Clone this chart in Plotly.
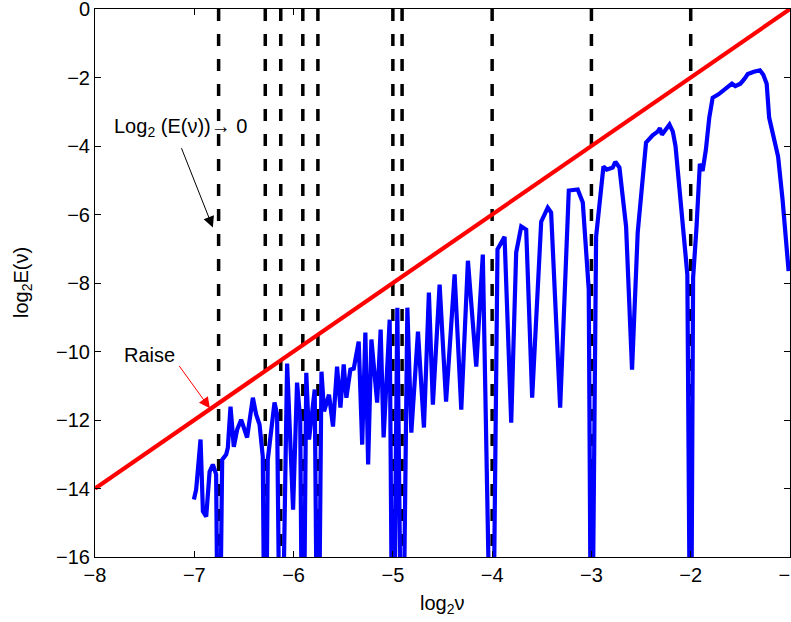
import plotly.graph_objects as go

# ---- data ----
BOT = -22.0  # spectral zeros (log of ~0), clipped at the axis
nu_log = [-7.004, -6.981, -6.937, -6.913, -6.880, -6.846, -6.813, -6.780, -6.755,
          -6.719, -6.679, -6.662, -6.635, -6.602, -6.568, -6.528, -6.468, -6.410,
          -6.377, -6.343, -6.310, -6.285, -6.260, -6.192, -6.166, -6.129, -6.065,
          -6.005, -5.965, -5.933, -5.907, -5.872, -5.844, -5.787, -5.755, -5.719,
          -5.693, -5.643, -5.603, -5.562, -5.528, -5.495, -5.468, -5.428, -5.394,
          -5.344, -5.309, -5.277, -5.249, -5.216, -5.158, -5.123, -5.093, -5.032,
          -5.000, -4.955, -4.907, -4.854, -4.814, -4.747, -4.687, -4.637, -4.597,
          -4.529, -4.464, -4.378, -4.311, -4.244, -4.160, -4.094, -4.000, -3.946,
          -3.875, -3.808, -3.758, -3.707, -3.657, -3.597, -3.506, -3.440, -3.406,
          -3.315, -3.228, -3.138, -3.087, -3.027, -3.000, -2.953, -2.879, -2.846,
          -2.786, -2.759, -2.718, -2.651, -2.591, -2.534, -2.450, -2.384, -2.333,
          -2.310, -2.290, -2.248, -2.214, -2.180, -2.153, -2.110, -2.060, -2.034,
          -2.000, -1.976, -1.942, -1.908, -1.880, -1.847, -1.813, -1.779, -1.720,
          -1.653, -1.620, -1.585, -1.551, -1.500, -1.459, -1.425, -1.364, -1.303,
          -1.269, -1.235, -1.210, -1.177, -1.120, -1.075, -1.014]
logE = [-14.32, -14.03, -12.57, -14.67, -14.82, -13.51, -13.30, -13.59, BOT,
        -13.16, -13.01, -12.81, -11.61, -12.78, -12.28, -11.99, -12.51, -11.35,
        -11.84, -12.13, -13.07, BOT, -13.16, -11.49, -11.84, BOT, -10.35,
        -14.62, -10.91, -11.99, BOT, -10.62, -12.57, -11.11, BOT, -10.59,
        -11.75, -11.26, -12.19, -10.44, -11.64, -10.38, -11.35, -10.53, -10.50,
        -9.71, -12.72, -9.45, -13.30, -9.65, -11.49, -9.36, -12.51, -9.07,
        BOT, -8.72, BOT, -8.72, -12.37, -9.42, -12.22, -8.28, -11.55,
        -8.05, -11.46, -7.75, -11.70, -7.35, -10.44, -7.17, BOT, -7.02,
        -6.65, -12.08, -7.11, -6.35, -6.44, -11.35, -6.21, -5.80, -5.94,
        -11.64, -5.30, -5.27, -5.65, -8.19, BOT, -6.65, -4.60, -4.69,
        -4.63, -4.46, -4.63, -6.35, -10.53, -6.53, -3.90, -3.69, -3.58,
        -3.48, -3.67, -3.48, -3.375, -3.58, -4.00, -5.35, -6.81, -7.75,
        BOT, -7.85, -6.40, -4.52, -4.73, -4.10, -3.17, -2.59, -2.49,
        -2.33, -2.28, -2.18, -2.25, -2.18, -2.04, -1.90, -1.83, -1.79,
        -1.92, -2.18, -3.17, -3.64, -4.31, -5.56, -7.65]

raise_x = [-8, -1]
raise_y = [-14, 0]

zeros_x = [-6.755, -6.285, -6.129, -5.907, -5.755, -5.0, -4.907, -4.0, -3.0, -2.0]
zero_span = [0, -16]

xticks = [-8, -7, -6, -5, -4, -3, -2, -1]
yticks = [0, -2, -4, -6, -8, -10, -12, -14, -16]

FONT = "Liberation Sans, Arial, Helvetica, sans-serif"

fig = go.Figure()

dx, dy = [], []
for v in zeros_x:
    dx += [v, v, None]
    dy += [zero_span[0], zero_span[1], None]
fig.add_trace(go.Scatter(x=dx, y=dy, mode="lines",
                         line=dict(color="black", width=3.5, dash="12px,13px"),
                         hoverinfo="skip", showlegend=False))

fig.add_trace(go.Scatter(x=nu_log, y=logE, mode="lines",
                         line=dict(color="#0000ff", width=4.2),
                         showlegend=False))

fig.add_trace(go.Scatter(x=raise_x, y=raise_y, mode="lines",
                         line=dict(color="#ff0000", width=4.2),
                         showlegend=False))

annotations = [
    # text labels
    dict(x=-7.135, y=-3.45, xref="x", yref="y", text="Log<sub>2</sub> (E(ν))→ 0",
         showarrow=False, font=dict(family=FONT, size=20, color="black")),
    dict(x=-7.45, y=-10.09, xref="x", yref="y", text="Raise",
         showarrow=False, font=dict(family=FONT, size=20, color="black")),
    # arrows
    dict(x=-6.813, y=-6.38, ax=-7.135, ay=-4.02, xref="x", yref="y",
         axref="x", ayref="y", text="", showarrow=True, arrowhead=2,
         arrowsize=2.2, arrowwidth=1, arrowcolor="black", standoff=0, startstandoff=0),
    dict(x=-6.843, y=-11.66, ax=-7.162, ay=-10.38, xref="x", yref="y",
         axref="x", ayref="y", text="", showarrow=True, arrowhead=2,
         arrowsize=2.2, arrowwidth=1, arrowcolor="#ff0000", standoff=0, startstandoff=0),
    # axis titles
    dict(x=0.5, y=-0.086, xref="paper", yref="paper", text="log<sub>2</sub>ν",
         showarrow=False, font=dict(family=FONT, size=20, color="black"),
         xanchor="center", yanchor="middle"),
    dict(x=-0.105, y=0.5, xref="paper", yref="paper", text="log<sub>2</sub>E(ν)",
         showarrow=False, textangle=-90, font=dict(family=FONT, size=20, color="black"),
         xanchor="center", yanchor="middle"),
]

axis_common = dict(showgrid=False, zeroline=False, showline=True, linecolor="black",
                   linewidth=1, mirror="allticks", ticks="inside", ticklen=6,
                   tickwidth=1, tickcolor="black", ticklabeloverflow="allow",
                   automargin=False,
                   tickfont=dict(family=FONT, size=20, color="black"))

fig.update_layout(
    width=791, height=622,
    margin=dict(l=95, r=1, t=9, b=65, autoexpand=False),
    paper_bgcolor="white", plot_bgcolor="white",
    xaxis=dict(range=[-8, -1], tickvals=xticks, **axis_common),
    yaxis=dict(range=[-16, 0], tickvals=yticks, **axis_common),
    annotations=annotations,
    showlegend=False,
)

fig.write_html("out.html")
